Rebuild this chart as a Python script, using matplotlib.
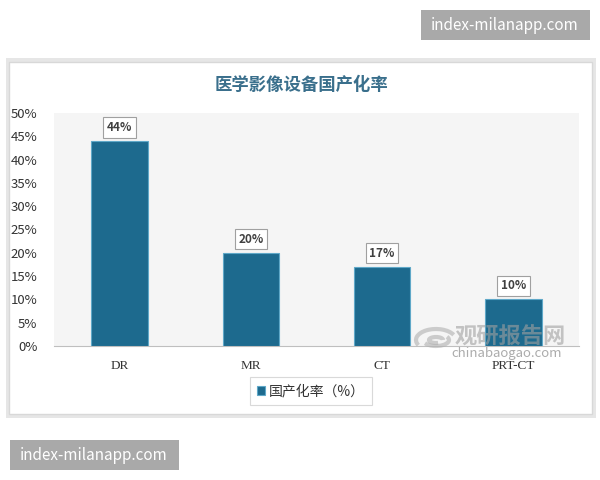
import matplotlib
matplotlib.use("Agg")
import matplotlib.pyplot as plt
from matplotlib.patches import Rectangle, Arc

plt.rcParams['font.family'] = ['Noto Sans CJK SC', 'DejaVu Sans']

categories = ["DR", "MR", "CT", "PRT-CT"]
values = [44, 20, 17, 10]
yticks = [0, 5, 10, 15, 20, 25, 30, 35, 40, 45, 50]
title = "医学影像设备国产化率"
legend_label = "国产化率（%）"

bar_color = "#1d6a8e"

fig = plt.figure(figsize=(6, 4.8), dpi=100)
W, H = 600, 480

def fx(x): return x / W
def fy(y): return 1 - y / H

# outer frame with shadow
fig.patches.append(Rectangle((fx(6), fy(418)), fx(590), fy(58) - fy(418),
                             transform=fig.transFigure, facecolor="#e6e6e6", edgecolor="none", zorder=-3))
fig.patches.append(Rectangle((fx(9), fy(414)), fx(583), fy(62) - fy(414),
                             transform=fig.transFigure, facecolor="white", edgecolor="#d8d8d8", lw=1, zorder=-2))

ax = fig.add_axes([fx(54), fy(346), fx(525), fy(113) - fy(346)])
ax.set_facecolor("#f5f5f5")
x = list(range(len(categories)))
bars = ax.bar(x, values, width=0.43, color=bar_color, edgecolor="#5fa8c8", linewidth=0.8, zorder=3)
ax.set_xlim(-0.5, len(categories) - 0.5)
ax.set_ylim(0, 50)
ax.set_yticks(yticks)
ax.set_yticklabels([f"{t}%" for t in yticks], fontsize=9.5, color="#333333")
ax.set_xticks(x)
ax.set_xticklabels(categories, fontsize=9.5, color="#333333", family=['Liberation Serif', 'DejaVu Serif'])
ax.tick_params(axis='both', length=0)
ax.tick_params(axis='x', pad=10)
ax.tick_params(axis='y', pad=12)
for s in ["top", "right", "left"]:
    ax.spines[s].set_visible(False)
ax.spines["bottom"].set_color("#bfbfbf")

for xi, v in zip(x, values):
    ax.annotate(f"{v}%", (xi, v), xytext=(0, 5), textcoords="offset points",
                ha="center", va="bottom", fontsize=8.5, fontweight="bold", color="#404040",
                bbox=dict(boxstyle="square,pad=0.3", fc="white", ec="#a0a0a0", lw=0.8), zorder=5)

fig.text(0.5 + fx(1), fy(85), title, ha="center", va="center", fontsize=12.5,
         fontweight="bold", color="#3a6f8c")

# legend
leg = ax.legend([bars[0]], [legend_label], loc="center", bbox_to_anchor=(fx(311), fy(391)),
                bbox_transform=fig.transFigure, frameon=True, fontsize=10, handlelength=0.6,
                handleheight=0.6, handletextpad=0.3, borderpad=0.5, fancybox=False)
leg.get_frame().set_edgecolor("#d0d0d0")
leg.get_frame().set_linewidth(0.8)
for t in leg.get_texts():
    t.set_color("#333333")

# source watermark
fig.text(fx(510), fy(337), "观研报告网", ha="center", va="center", fontsize=16, fontweight="bold",
         color="#a0a0a0", alpha=0.6, zorder=10)
fig.text(fx(507), fy(354), "chinabaogao.com", ha="center", va="center", fontsize=9.5,
         color="#909090", alpha=0.75, zorder=10)
for w, h, t1, t2 in [(40, 22, 20, 200), (26, 12, 200, 380), (14, 6, 0, 300)]:
    fig.patches.append(Arc((fx(436), fy(340)), fx(w), fy(0) - fy(h), theta1=t1, theta2=t2,
                           transform=fig.transFigure, color="#b0b0b0", lw=3, alpha=0.6, zorder=10))

# site watermarks
fig.patches.append(Rectangle((fx(421), fy(40)), fx(169), fy(10) - fy(40),
                             transform=fig.transFigure, facecolor="#a9a9a9", edgecolor="none", zorder=11))
fig.text(fx(505), fy(25), "index-milanapp.com", ha="center", va="center", fontsize=11,
         color="white", zorder=12)
fig.patches.append(Rectangle((fx(10), fy(470)), fx(169), fy(440) - fy(470),
                             transform=fig.transFigure, facecolor="#a9a9a9", edgecolor="none", zorder=11))
fig.text(fx(94), fy(455), "index-milanapp.com", ha="center", va="center", fontsize=11,
         color="white", zorder=12)

fig.savefig("out.png", dpi=100, facecolor="white")
